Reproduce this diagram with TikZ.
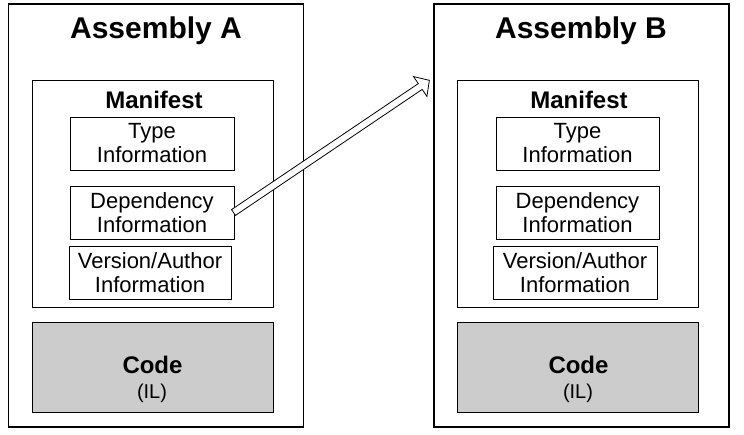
\documentclass[tikz,border=0pt]{standalone}
\usepackage{fontspec}
\setmainfont{Liberation Sans}
\usetikzlibrary{calc,positioning}

\begin{document}
\begin{tikzpicture}[
    x=1pt, y=-1pt,
    asmbox/.style={draw, line width=1.3pt, minimum width=295pt, minimum height=423pt, inner sep=0pt},
    manbox/.style={draw, line width=1pt, minimum width=241pt, minimum height=227pt, inner sep=0pt},
    infobox/.style={
        draw,
        line width=1pt,
        minimum width=164pt,
        minimum height=53pt,
        inner sep=0pt,
        align=center,
        font=\fontsize{22}{24}\selectfont
    },
    codebox/.style={draw, line width=1pt, fill=black!20, minimum width=241pt, minimum height=90pt, inner sep=0pt},
    titletext/.style={anchor=base, inner sep=0pt, font=\fontsize{30}{32}\selectfont\bfseries},
    headtext/.style={anchor=base, inner sep=0pt, font=\fontsize{24}{26}\selectfont\bfseries},
    iltext/.style={anchor=base, inner sep=0pt, font=\fontsize{20}{22}\selectfont}
]
\useasboundingbox (0,0) rectangle (744,434);

% -------- Assembly A --------
\node[asmbox] (asmA) at (156,215.5) {};
\node[titletext] (titleA) at (156,38) {Assembly A};
\node[manbox] (manA) at (152.5,193.5) {};
\node[headtext] (headA) at (154,108) {Manifest};
\node[infobox] (typeA) at (152,143.5) {Type\\Information};
\node[infobox] (depA) at (152,212.5) {Dependency\\Information};
\node[infobox, minimum width=162pt] (verA) at (150,272.5) {Version/Author\\Information};
\node[codebox] (codeA) at (152.5,367) {};
\node[headtext] (codetextA) at (152.5,373) {Code};
\node[iltext] (ilA) at (152,398) {(IL)};

% -------- Assembly B --------
\node[asmbox] (asmB) at (581.5,215.5) {};
\node[titletext] (titleB) at (581,38) {Assembly B};
\node[manbox] (manB) at (577.5,193.5) {};
\node[headtext] (headB) at (579,108) {Manifest};
\node[infobox, minimum width=163pt] (typeB) at (577.5,143.5) {Type\\Information};
\node[infobox, minimum width=163pt] (depB) at (577.5,212.5) {Dependency\\Information};
\node[infobox] (verB) at (575,272.5) {Version/Author\\Information};
\node[codebox] (codeB) at (577.5,367) {};
\node[headtext] (codetextB) at (578.5,373) {Code};
\node[iltext] (ilB) at (578,398) {(IL)};

% -------- Dependency arrow --------
\coordinate (tail) at ($(depA.east)+(-1,0)$);
\coordinate (tip) at ($(asmB.north west)+(-4,77)$);
\coordinate (neck) at ($(tip)!11pt!(tail)$);
\filldraw[fill=white, line width=0.8pt, line join=miter]
    ($(tail)!3.5pt!90:(tip)$) -- ($(neck)!3.5pt!90:(tip)$) -- ($(neck)!12pt!90:(tip)$) -- (tip)
    -- ($(neck)!12pt!-90:(tip)$) -- ($(neck)!3.5pt!-90:(tip)$) -- ($(tail)!3.5pt!-90:(tip)$) -- cycle;

\end{tikzpicture}
\end{document}
